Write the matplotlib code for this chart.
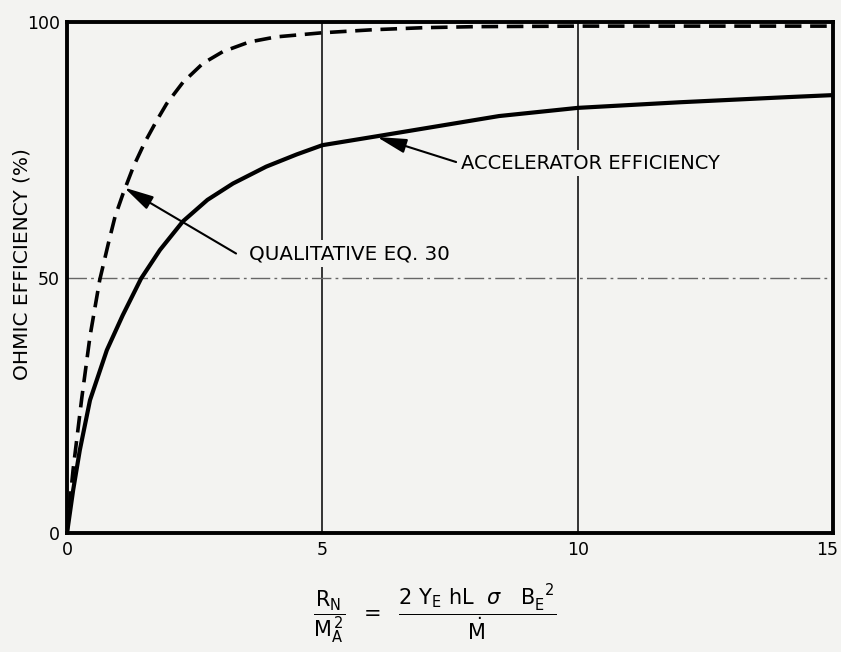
import numpy as np
import matplotlib
matplotlib.use('Agg')
from matplotlib import pyplot as plt
import matplotlib.transforms as mtrans

# values
x_qual = [0, 0.04, 0.12, 0.29, 0.45, 0.64, 0.81, 0.94, 1.1, 1.3, 1.52, 1.75, 1.95, 2.27, 2.66, 3.05, 3.57, 4.1, 5.0, 6.0, 7.0, 8.0, 10.0, 12.0, 15.0]
y_qual = [0, 4.5, 12.5, 26.5, 38.5, 49.5, 56.7, 61.9, 66.5, 71.7, 76.4, 80.6, 84.0, 88.2, 91.9, 94.2, 96.1, 97.1, 97.9, 98.5, 98.9, 99.1, 99.2, 99.2, 99.2]

x_acc = [0, 0.12, 0.25, 0.45, 0.78, 1.09, 1.45, 1.82, 2.27, 2.75, 3.25, 3.9, 4.5, 5.0, 6.1, 8.46, 10.0, 12.0, 14.1, 15.0]
y_acc = [0, 8.4, 16.2, 26.0, 35.8, 42.6, 49.8, 55.4, 61.0, 65.2, 68.4, 71.7, 74.1, 75.9, 77.7, 81.6, 83.2, 84.3, 85.3, 85.7]

x_ticks = [0, 5, 10, 15]
y_ticks = [0, 50, 100]

bg = '#f3f3f1'
plt.rcParams['mathtext.fontset'] = 'dejavusans'

fig = plt.figure(figsize=(8.41, 6.52), dpi=100, facecolor=bg)
ax = fig.add_axes([0.0797, 0.1825, 0.9108, 0.7837])
ax.set_facecolor(bg)

# grid: solid verticals at 5 and 10, dash-dot horizontal at 50
for gx in (5, 10):
    ax.axvline(gx, color='black', lw=1.1, zorder=1)
ax.axhline(50, color='#666666', lw=1.0, linestyle=(0, (14, 3, 2, 3)), zorder=1)

# curves
ax.plot(x_qual, y_qual, color='black', lw=2.6, linestyle=(0, (4.6, 2.4)),
        solid_joinstyle='round', dash_joinstyle='round', zorder=3)
ax.plot(x_acc, y_acc, color='black', lw=3.0, solid_joinstyle='round', zorder=3)

ax.set_xlim(0, 15)
ax.set_ylim(0, 100)
ax.set_xticks(x_ticks)
ax.set_yticks(y_ticks)
ax.tick_params(length=0, labelsize=12.5, pad=6)
ax.tick_params(axis='y', pad=5)
for s in ax.spines.values():
    s.set_linewidth(2.8)
    s.set_zorder(5)

# nudge the last x tick label so it stays inside the figure
last = ax.get_xticklabels()[-1]
last.set_transform(last.get_transform() + mtrans.ScaledTranslation(-4 / 72, 0, fig.dpi_scale_trans))

ax.set_ylabel('OHMIC EFFICIENCY (%)', fontsize=14.5)
ax.yaxis.set_label_coords(-0.046, 0.527)

# annotations: arrows and labels drawn separately
arrow = dict(arrowstyle='-|>,head_length=0.9,head_width=0.22', color='black',
             lw=1.5, mutation_scale=20, shrinkA=0, shrinkB=0)
ax.annotate('', xy=(1.12, 67.6), xytext=(3.31, 54.7), arrowprops=arrow, zorder=6)
ax.text(3.57, 54.7, 'QUALITATIVE EQ. 30', fontsize=14.3, va='center', ha='left', zorder=6,
        bbox=dict(boxstyle='square,pad=0.2', fc=bg, ec='none'))
ax.annotate('', xy=(6.07, 77.5), xytext=(7.62, 72.6), arrowprops=arrow, zorder=6)
ax.text(7.71, 72.4, 'ACCELERATOR EFFICIENCY', fontsize=14.0, va='center', ha='left', zorder=6,
        bbox=dict(boxstyle='square,pad=0.2', fc=bg, ec='none'))

# x axis quantity written as an equation
fig.text(0.517, 0.058,
         r'$\dfrac{\mathrm{R}_\mathrm{N}}{\mathrm{M}_\mathrm{A}^{\,2}}\ \ =\ \ '
         r'\dfrac{2\ \mathrm{Y}_\mathrm{E}\ \mathrm{hL}\ \ \sigma\ \ \ \mathrm{B}_\mathrm{E}^{\ \ 2}}{\dot{\mathrm{M}}}$',
         fontsize=15, ha='center', va='center')

plt.savefig('out.png', dpi=100, facecolor=bg)
